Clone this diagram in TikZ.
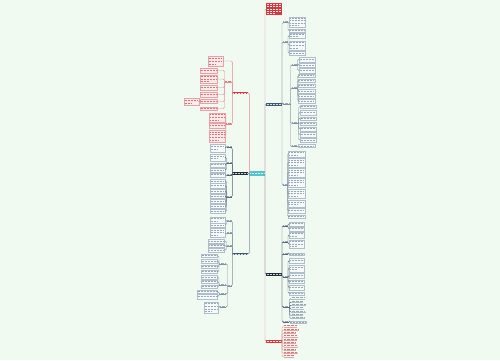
\documentclass[tikz,border=0pt]{standalone}
\usetikzlibrary{calc}
\definecolor{bg}{HTML}{F0FAF0}
\definecolor{redc}{HTML}{D9363E}
\definecolor{pbord}{HTML}{EBA0A5}
\definecolor{pfill}{HTML}{FBECEC}
\definecolor{ptxt}{HTML}{DE6F76}
\definecolor{cyanc}{HTML}{52C4CB}
\definecolor{darkc}{HTML}{1E2A36}
\definecolor{slatec}{HTML}{3E5A72}
\definecolor{bbord}{HTML}{AFBECB}
\definecolor{bfill}{HTML}{F7FAFA}
\definecolor{btxt}{HTML}{9AA6B2}
\definecolor{cgray}{HTML}{7E92A3}
\definecolor{cdark}{HTML}{55677A}
\definecolor{cpink}{HTML}{E58990}
\tikzset{
 base/.style={rectangle, inner sep=0pt, outer sep=0pt},
 blf/.style={base, draw=bbord, fill=bfill, line width=0.35pt},
 blftxt/.style={draw=btxt, line width=0.65pt, dash pattern=on 1.1pt off 0.4pt},
 plf/.style={base, draw=pbord, fill=pfill, line width=0.35pt},
 plftxt/.style={draw=ptxt, line width=0.65pt, dash pattern=on 1.1pt off 0.4pt},
 redn/.style={base, fill=redc},
 redntxt/.style={draw=white!90!redc, line width=0.65pt, dash pattern=on 1.1pt off 0.4pt},
 cyn/.style={base, fill=cyanc},
 cyntxt/.style={draw=white!90!cyanc, line width=0.65pt, dash pattern=on 1.1pt off 0.4pt},
 drk/.style={base, fill=darkc},
 drktxt/.style={draw=white!80!darkc, line width=0.65pt, dash pattern=on 1.1pt off 0.4pt},
 slt/.style={base, fill=slatec},
 slttxt/.style={draw=white!80!slatec, line width=0.65pt, dash pattern=on 1.1pt off 0.4pt},
 lbtxt/.style={draw=btxt, line width=0.6pt, dash pattern=on 1pt off 0.35pt},
 lbptxt/.style={draw=ptxt, line width=0.6pt, dash pattern=on 1pt off 0.35pt},
 itmtxt/.style={draw=ptxt, line width=0.6pt, dash pattern=on 1pt off 0.35pt},
 itmul/.style={draw=pbord, line width=0.3pt},
 bitmtxt/.style={draw=btxt, line width=0.6pt, dash pattern=on 1pt off 0.35pt},
 bitmul/.style={draw=bbord, line width=0.3pt},
 cS/.style={draw=cgray, line width=0.45pt, rounded corners=1.2pt},
 cD/.style={draw=cdark, line width=0.45pt, rounded corners=1.2pt},
 cP/.style={draw=cpink, line width=0.45pt, rounded corners=1.2pt},
}
% leaf / node with text-like lines
\newcommand{\lf}[6]{%
 \node[#6, anchor=north west, minimum width={#4-#2}, minimum height={#5-#3}] (#1) at (#2,#3) {};
 \pgfmathtruncatemacro\nl{max(1,floor((#5-#3-0.6)/2.4))}%
 \foreach \i in {1,...,\nl}{%
  \pgfmathsetmacro\yy{#3+0.5+(\i-0.5)*(#5-#3-1)/\nl}%
  \pgfmathsetmacro\xe{ifthenelse(\i==\nl && \nl>1, #2+0.8+0.55*(#4-#2-1.6), #4-0.8)}%
  \draw[#6txt] (#2+0.8,\yy) -- (\xe,\yy);}%
}
% small label on a connector
\newcommand{\lb}[6]{%
 \node[base, anchor=west, minimum width={#3-#2}, minimum height=0pt] (#1) at (#2,#4) {};
 \draw[#5] (#2+0.4,#4-1) -- (#3-0.4,#4-1);
 \draw[#6] (#1.west) -- (#1.east);}
% list item with underline
\newcommand{\itm}[5]{%
 \node[base, anchor=west, minimum width={#3-#2}, minimum height=0pt] (#1) at (#2,#4) {};
 \draw[#5txt] (#2+0.5,#4-1) -- (#3-0.5,#4-1);
 \draw[#5ul] (#1.west) -- (#1.east);}
\newcommand{\grpR}[7]{\foreach \a/\b [count=\k] in {#5}{\lf{#2\k}{#3}{\a}{#4}{\b}{#6}\draw[#7] (#1.east) |- (#2\k.west);}}
\newcommand{\grpL}[7]{\foreach \a/\b [count=\k] in {#5}{\lf{#2\k}{#3}{\a}{#4}{\b}{#6}\draw[#7] (#1.west) |- (#2\k.east);}}
\newcommand{\itmsR}[6]{\foreach \y/\b [count=\k] in {#4}{\itm{#2\k}{#3}{\b}{\y}{#5}\draw[#6] (#1.east) |- (#2\k.west);}}
\begin{document}
\begin{tikzpicture}[x=1pt,y=-1pt]
\useasboundingbox (0,0) rectangle (500,360);
\fill[bg] (0,0) rectangle (500,360);
% main nodes
\lf{C}{249.3}{171}{265}{175.5}{cyn}
\lf{L1}{232.3}{91.5}{248.3}{94.2}{redn}
\lf{L2}{232.3}{171.5}{248.3}{174.5}{drk}
\lf{L3}{232.3}{252.5}{248.3}{255.2}{slt}
\lf{R1}{266}{2.7}{282}{15.3}{redn}
\lf{R2}{266}{102.5}{282}{105.5}{slt}
\lf{R3}{266}{272.5}{282}{275.5}{drk}
\lf{R4}{266}{339.5}{282}{342.5}{redn}
\draw[cS] (C.east) |- (R2.west);
\draw[cD] (C.east) |- (R3.west);
\draw[cP] (C.east) |- (R1.west);
\draw[cP] (C.east) |- (R4.west);
\draw[cD] (C.west) |- (L2.east);
\draw[cS] (C.west) |- (L3.east);
\draw[cP] (C.west) |- (L1.east);
% ---------- R2 ----------
\lb{ra}{283}{288}{22.7}{lbtxt}{cS} \draw[cS] (R2.east) |- (ra.west);
\grpR{ra}{ra}{289.3}{305}{16.7/27.3, 29.3/31.7}{blf}{cS}
\lb{rb}{283}{288}{42.3}{lbtxt}{cS} \draw[cS] (R2.east) |- (rb.west);
\grpR{rb}{rb}{289}{305}{32.7/38.3, 40.7/50, 51/55}{blf}{cS}
\lb{rc}{283}{290.5}{104}{lbtxt}{cS} \draw[cS] (R2.east) |- (rc.west);
\lb{rca}{292}{297.5}{65}{lbtxt}{cS} \draw[cS] (rc.east) |- (rca.west);
\grpR{rca}{rca}{299}{315}{57.3/61.7, 63/67, 68.3/72.7}{blf}{cS}
\lb{rcb}{292}{297.5}{88.3}{lbtxt}{cS} \draw[cS] (rc.east) |- (rcb.west);
\grpR{rcb}{rcb}{298.5}{315}{74/77.3, 79/82.3, 84/87.3, 89.3/92.7, 94.3/97.7, 99.3/102.7}{blf}{cS}
\lb{rcc}{292}{298.5}{123.3}{lbtxt}{cS} \draw[cS] (rc.east) |- (rcc.west);
\grpR{rcc}{rcc}{300}{316.5}{105/108.3, 110/115, 116.7/120, 121.7/125, 126.7/130.7, 132.3/136.7, 138.3/141.7}{blf}{cS}
\lb{rcd}{292}{297}{146.7}{lbtxt}{cS} \draw[cS] (rc.east) |- (rcd.west);
\grpR{rcd}{rcd}{298.5}{315}{144.3/147.5}{blf}{cS}
\lb{rd}{283}{287.5}{185}{lbtxt}{cS} \draw[cS] (R2.east) |- (rd.west);
\grpR{rd}{rd}{288.5}{305}{150.7/156.7, 158.3/166.7, 168.3/176.7, 178.3/186.7, 189.3/198.3, 200/206.7, 208.3/213.3, 215/218.3}{blf}{cS}
% ---------- R3 ----------
\lb{re}{283}{288}{226}{lbtxt}{cD} \draw[cD] (R3.east) |- (re.west);
\grpR{re}{re}{289.3}{304}{221.7/225.7, 226.7/230.7}{blf}{cD}
\lb{rf}{283}{288}{242}{lbtxt}{cD} \draw[cD] (R3.east) |- (rf.west);
\grpR{rf}{rf}{289.3}{304}{231.7/238.3, 240/248.3}{blf}{cD}
\lb{rg}{283}{288}{254}{lbtxt}{cD} \draw[cD] (R3.east) |- (rg.west);
\grpR{rg}{rg}{289.3}{304}{252.7/255.5}{blf}{cD}
\lb{rh}{283}{288}{277}{lbtxt}{cD} \draw[cD] (R3.east) |- (rh.west);
\grpR{rh}{rh}{289.3}{304}{258.3/263.3, 265/271.7, 273.3/278.3, 280/283.3, 285/290, 291.7/295}{blf}{cD}
\lb{ri}{283}{289.5}{307}{lbtxt}{cD} \draw[cD] (R3.east) |- (ri.west);
\itmsR{ri}{ri}{291}{298.7/305, 302/303, 305.3/306, 308.7/304, 312/305.5, 315.3/303, 318.3/305}{bitm}{cD}
\lb{rj}{283}{289}{322}{lbtxt}{cD} \draw[cD] (R3.east) |- (rj.west);
\grpR{rj}{rj}{290.5}{306}{320.7/323.5}{blf}{cD}
% ---------- R4 ----------
\itmsR{R4}{rk}{283.5}{326.7/297, 330/299, 333.3/296, 336.7/298, 340/297, 343.3/296, 346.7/298, 350/296, 353.3/298, 356.7/294}{itm}{cP}
% ---------- L1 ----------
\grpL{L1}{lk}{208}{223}{56/66}{plf}{cP}
\lb{ll}{224.5}{231.5}{82}{lbptxt}{cP} \draw[cP] (L1.west) |- (ll.east);
\grpL{ll}{ll}{200}{216.7}{68/73, 75/83, 85/90, 92/97, 99.5/103.5, 107/110}{plf}{cP}
\lf{llx}{184}{98.5}{199}{105}{plf} \draw[cP] (ll5.west) |- (llx.east);
\lb{lm}{226}{231.5}{124}{lbptxt}{cP} \draw[cP] (L1.west) |- (lm.east);
\grpL{lm}{lm}{209.3}{225}{112.7/121.7, 123.3/128.3, 130/141.7}{plf}{cP}
% ---------- L2 ----------
\lb{ln}{226.5}{231.5}{147.7}{lbtxt}{cD} \draw[cD] (L2.west) |- (ln.east);
\grpL{ln}{ln}{210}{225}{144/151.7}{blf}{cD}
\lb{lo}{226.5}{231.5}{163}{lbtxt}{cD} \draw[cD] (L2.west) |- (lo.east);
\grpL{lo}{lo}{210}{225}{154/160.7, 162.7/166.7, 168.3/171.7}{blf}{cD}
\lb{lp}{226.5}{231.5}{175}{lbtxt}{cD} \draw[cD] (L2.west) |- (lp.east);
\grpL{lp}{lp}{210}{225}{172.7/176.7}{blf}{cD}
\lb{lq}{226.5}{231.5}{197}{lbtxt}{cD} \draw[cD] (L2.west) |- (lq.east);
\grpL{lq}{lq}{210}{225}{179.3/182.7, 183.3/188.3, 189.3/193.3, 194.3/198.3, 199.3/203.3, 204.3/208.3, 209.3/213.3}{blf}{cD}
% ---------- L3 ----------
\lb{lr}{226.5}{231.5}{221}{lbtxt}{cS} \draw[cS] (L3.west) |- (lr.east);
\grpL{lr}{lr}{210}{225}{216.7/222.7, 223.3/226.7}{blf}{cS}
\lb{ls}{226.5}{231.5}{233}{lbtxt}{cS} \draw[cS] (L3.west) |- (ls.east);
\grpL{ls}{ls}{210}{225}{228.3/237.3}{blf}{cS}
\lb{lt}{226.5}{231.5}{246}{lbtxt}{cS} \draw[cS] (L3.west) |- (lt.east);
\grpL{lt}{lt}{208.5}{224}{239.3/242.7, 244/247.3, 248.3/251.7}{blf}{cS}
\lb{lu}{227.5}{231.5}{286}{lbtxt}{cS} \draw[cS] (L3.west) |- (lu.east);
\lb{lua}{219}{225.5}{264}{lbtxt}{cS} \draw[cS] (lu.west) |- (lua.east);
\grpL{lua}{lua}{201}{216.7}{254/257.3, 259.3/263.3, 265/268.3, 270/273.3}{blf}{cS}
\lb{lub}{219}{225.5}{285}{lbtxt}{cS} \draw[cS] (lu.west) |- (lub.east);
\grpL{lub}{lub}{201}{217}{275/279.3, 280/283.3, 285/288.3}{blf}{cS}
\lb{luc}{219}{225.5}{294}{lbtxt}{cS} \draw[cS] (lu.west) |- (luc.east);
\grpL{luc}{luc}{197}{217}{290/293.3, 294.3/298.7}{blf}{cS}
\lb{lud}{220}{225.5}{307}{lbtxt}{cS} \draw[cS] (lu.west) |- (lud.east);
\grpL{lud}{lud}{204}{218.5}{301.7/313.3}{blf}{cS}
\end{tikzpicture}
\end{document}
